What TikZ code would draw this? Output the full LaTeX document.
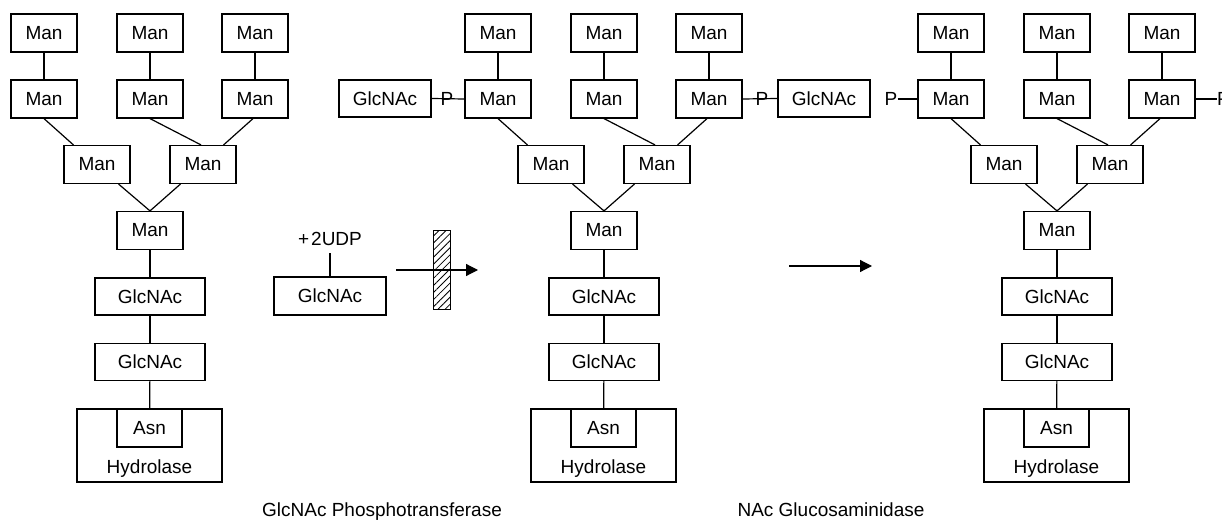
\documentclass[tikz,border=0pt]{standalone}
\usepackage{fontspec}
\setmainfont{Liberation Sans}
\usetikzlibrary{calc,arrows.meta,patterns.meta}
\begin{document}
\begin{tikzpicture}[x=1pt,y=-1pt,
  every node/.style={font=\fontsize{19}{21}\selectfont},
  box/.style={draw,line width=1.2pt,inner sep=0pt,minimum width=66pt,minimum height=38pt},
  glc/.style={box,minimum width=110pt,minimum height=37pt},
  sideglc/.style={box,minimum width=92pt,minimum height=37pt},
  phos/.style={inner sep=0pt},
  link/.style={line width=1.2pt},
  react/.style={line width=1.2pt,-{Triangle[length=12pt,width=12pt]}},
]
\useasboundingbox (0,0) rectangle (1222,521);
\clip (0,0) rectangle (1222,521);

% three copies of the glycan tree on its hydrolase
\foreach \t/\dx in {1/0,2/454,3/907}{
\begin{scope}[xshift=\dx pt]
  \node[box] (t\t-a1) at (44,33) {Man};
  \node[box] (t\t-b1) at (150,33) {Man};
  \node[box] (t\t-c1) at (255,33) {Man};
  \node[box] (t\t-a2) at (44,99) {Man};
  \node[box] (t\t-b2) at (150,99) {Man};
  \node[box] (t\t-c2) at (255,99) {Man};
  \node[box] (t\t-l) at (97,164.5) {Man};
  \node[box] (t\t-r) at (203,164.5) {Man};
  \node[box] (t\t-m) at (150,230.5) {Man};
  \node[glc] (t\t-g1) at (150,296.5) {GlcNAc};
  \node[glc] (t\t-g2) at (150,362) {GlcNAc};
  \node[box,minimum width=145pt,minimum height=73pt] (t\t-h) at (149.5,445.5) {};
  \node[box,minimum width=65pt] (t\t-asn) at (149.5,428) {Asn};
  \node[anchor=base,inner sep=0pt] (t\t-ht) at (149.5,473) {Hydrolase};
  \draw[link] (t\t-a1) -- (t\t-a2);
  \draw[link] (t\t-b1) -- (t\t-b2);
  \draw[link] (t\t-c1) -- (t\t-c2);
  \draw[link] (t\t-a2.south) -- ($(t\t-l.north west)+(10,0)$);
  \draw[link] (t\t-b2.south) -- ($(t\t-r.north)+(-2,0)$);
  \draw[link] ($(t\t-c2.south)+(-2,0)$) -- ($(t\t-r.north east)+(-13,0)$);
  \draw[link] ($(t\t-l.south east)+(-12,0)$) -- (t\t-m.north);
  \draw[link] ($(t\t-r.south west)+(11,0)$) -- (t\t-m.north);
  \draw[link] (t\t-m) -- (t\t-g1);
  \draw[link] (t\t-g1) -- (t\t-g2);
  \draw[link] (t\t-g2) -- (t\t-asn);
\end{scope}}

% phosphorylated GlcNAc caps on the second tree
\node[sideglc] (lg) at (385,98.5) {GlcNAc};
\node[sideglc] (rg) at (824,98.5) {GlcNAc};
\draw[link] (lg.east) -- (t2-a2.west);
\draw[link] (t2-c2.east) -- (rg.west);
\node[phos] (lp) at (447,99) {P};
\node[phos] (rp) at (762,99) {P};

% exposed phosphates on the third tree
\node[phos] (lp3) at (891,99) {P};
\node[phos,anchor=west] (rp3) at (1217,99) {P};
\draw[link] (lp3.east) -- (t3-a2.west);
\draw[link] (t3-c2.east) -- (rp3.west);

% donor and first reaction step
\node[anchor=base,inner sep=0pt] (udp) at (330,245) {+\hspace{2pt}2UDP};
\node[box,minimum width=112pt] (g0) at (330,296) {GlcNAc};
\coordinate (udpfoot) at (330,253);
\draw[link] (udpfoot) -- (g0.north);
\node[draw,line width=1pt,inner sep=0pt,minimum width=17pt,minimum height=78pt,
      pattern={Lines[angle=45,distance=5pt,line width=0.8pt]}] (blk) at (441.5,270) {};
\coordinate (a1s) at (396,270);
\coordinate (a1e) at (478,270);
\draw[react] (a1s) -- (a1e);

% second reaction step
\coordinate (a2s) at (789,266);
\coordinate (a2e) at (872,266);
\draw[react] (a2s) -- (a2e);

% enzyme names
\node[anchor=base,inner sep=0pt] (enz1) at (382,516) {GlcNAc Phosphotransferase};
\node[anchor=base,inner sep=0pt] (enz2) at (831,516) {NAc Glucosaminidase};
\end{tikzpicture}
\end{document}
